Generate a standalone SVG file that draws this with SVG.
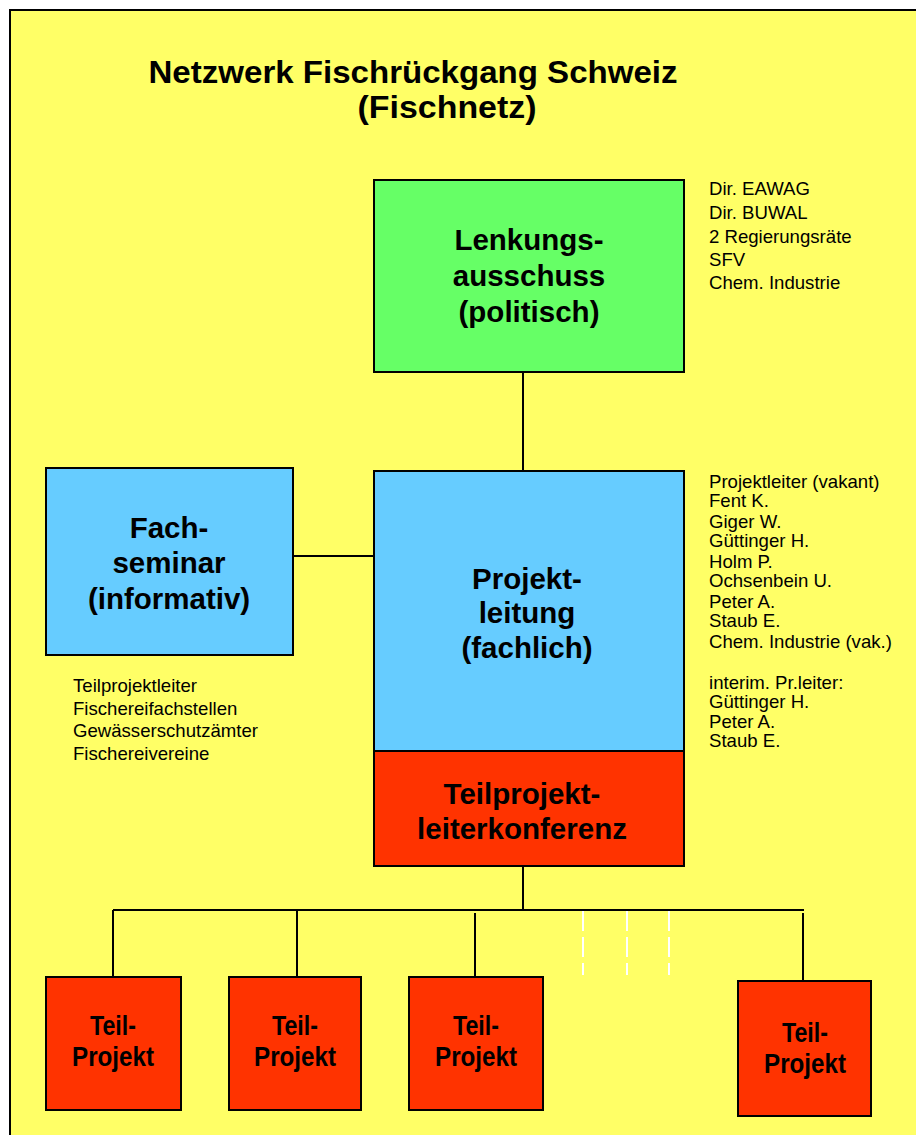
<svg xmlns="http://www.w3.org/2000/svg" width="916" height="1135" viewBox="0 0 916 1135">
<style>
.box{stroke:#000;stroke-width:2}
.g{fill:#66FF66}.b{fill:#66CCFF}.r{fill:#FF3300}
.lbl{font-family:"Liberation Sans",Arial,sans-serif;font-weight:bold;font-size:29.5px;text-anchor:middle;fill:#000}
.tp{font-family:"Liberation Sans",Arial,sans-serif;font-weight:bold;font-size:27px;text-anchor:middle;fill:#000}
.note{font-family:"Liberation Sans",Arial,sans-serif;font-size:18.6px;fill:#000}
.title{font-family:"Liberation Sans",Arial,sans-serif;font-weight:bold;font-size:32px;text-anchor:middle;fill:#000}
.ln{stroke:#000;stroke-width:2;fill:none}
.dash{stroke:#fff;stroke-width:2;stroke-dasharray:20 6;fill:none}
</style>
<rect x="0" y="0" width="916" height="1135" fill="#fff"/>
<rect x="10" y="10" width="920" height="1140" fill="#FFFF66" stroke="#000" stroke-width="2"/>
<g id="title">
<text class="title" x="413" y="83" textLength="529" lengthAdjust="spacingAndGlyphs">Netzwerk Fischrückgang Schweiz</text>
<text class="title" x="447" y="118" textLength="179" lengthAdjust="spacingAndGlyphs">(Fischnetz)</text>
</g>
<g id="connectors">
<line class="ln" x1="523" y1="372" x2="523" y2="471"/>
<line class="ln" x1="293" y1="556" x2="374" y2="556"/>
<line class="ln" x1="523" y1="866" x2="523" y2="910"/>
<line class="ln" x1="113" y1="910" x2="804" y2="910"/>
<line class="ln" x1="113" y1="910" x2="113" y2="977"/>
<line class="ln" x1="297" y1="910" x2="297" y2="976"/>
<line class="ln" x1="475" y1="913" x2="475" y2="977"/>
<line class="ln" x1="803" y1="913" x2="803" y2="980"/>
<line class="dash" x1="583" y1="911" x2="583" y2="975"/>
<line class="dash" x1="627" y1="911" x2="627" y2="975"/>
<line class="dash" x1="669" y1="911" x2="669" y2="975"/>
</g>
<g id="lenkungsausschuss">
<rect class="box g" x="374" y="180" width="310" height="192"/>
<text class="lbl" x="529" y="250">Lenkungs-</text>
<text class="lbl" x="529" y="286">ausschuss</text>
<text class="lbl" x="529" y="322">(politisch)</text>
</g>
<g id="lenkung-members">
<text class="note" x="709" y="195">Dir. EAWAG</text>
<text class="note" x="709" y="219">Dir. BUWAL</text>
<text class="note" x="709" y="243">2 Regierungsräte</text>
<text class="note" x="709" y="266">SFV</text>
<text class="note" x="709" y="289">Chem. Industrie</text>
</g>
<g id="fachseminar">
<rect class="box b" x="46" y="468" width="247" height="187"/>
<text class="lbl" x="169" y="538">Fach-</text>
<text class="lbl" x="169" y="573">seminar</text>
<text class="lbl" x="169" y="609">(informativ)</text>
</g>
<g id="fachseminar-members">
<text class="note" x="73" y="692">Teilprojektleiter</text>
<text class="note" x="73" y="715">Fischereifachstellen</text>
<text class="note" x="73" y="737">Gewässerschutzämter</text>
<text class="note" x="73" y="760">Fischereivereine</text>
</g>
<g id="projektleitung">
<rect class="box b" x="374" y="471" width="310" height="280"/>
<text class="lbl" x="527" y="589">Projekt-</text>
<text class="lbl" x="527" y="623">leitung</text>
<text class="lbl" x="527" y="658">(fachlich)</text>
</g>
<g id="projektleitung-members">
<text class="note" x="709" y="488">Projektleiter (vakant)</text>
<text class="note" x="709" y="507">Fent K.</text>
<text class="note" x="709" y="528">Giger W.</text>
<text class="note" x="709" y="547">Güttinger H.</text>
<text class="note" x="709" y="568">Holm P.</text>
<text class="note" x="709" y="587">Ochsenbein U.</text>
<text class="note" x="709" y="608">Peter A.</text>
<text class="note" x="709" y="627">Staub E.</text>
<text class="note" x="709" y="648">Chem. Industrie (vak.)</text>
<text class="note" x="709" y="689">interim. Pr.leiter:</text>
<text class="note" x="709" y="708">Güttinger H.</text>
<text class="note" x="709" y="728">Peter A.</text>
<text class="note" x="709" y="747">Staub E.</text>
</g>
<g id="teilprojektleiterkonferenz">
<rect class="box r" x="374" y="751" width="310" height="115"/>
<text class="lbl" x="522" y="804">Teilprojekt-</text>
<text class="lbl" x="522" y="839">leiterkonferenz</text>
</g>
<g id="teilprojekt1">
<rect class="box r" x="46" y="977" width="135" height="133"/>
<text class="tp" x="113" y="1035" textLength="46" lengthAdjust="spacingAndGlyphs">Teil-</text>
<text class="tp" x="113" y="1066" textLength="82" lengthAdjust="spacingAndGlyphs">Projekt</text>
</g>
<g id="teilprojekt2">
<rect class="box r" x="229" y="977" width="132" height="133"/>
<text class="tp" x="295" y="1035" textLength="46" lengthAdjust="spacingAndGlyphs">Teil-</text>
<text class="tp" x="295" y="1066" textLength="82" lengthAdjust="spacingAndGlyphs">Projekt</text>
</g>
<g id="teilprojekt3">
<rect class="box r" x="409" y="977" width="134" height="133"/>
<text class="tp" x="476" y="1035" textLength="46" lengthAdjust="spacingAndGlyphs">Teil-</text>
<text class="tp" x="476" y="1066" textLength="82" lengthAdjust="spacingAndGlyphs">Projekt</text>
</g>
<g id="teilprojekt4">
<rect class="box r" x="738" y="981" width="133" height="135"/>
<text class="tp" x="805" y="1042" textLength="46" lengthAdjust="spacingAndGlyphs">Teil-</text>
<text class="tp" x="805" y="1073" textLength="82" lengthAdjust="spacingAndGlyphs">Projekt</text>
</g>
</svg>
